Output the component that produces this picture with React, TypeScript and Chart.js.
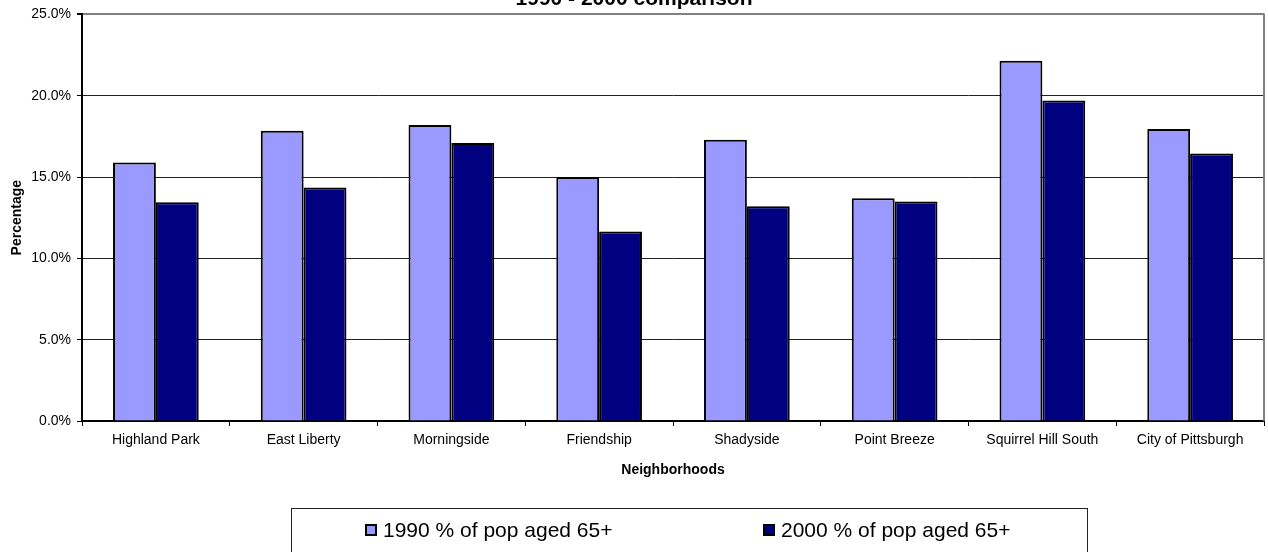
import React, { useEffect, useRef } from 'react';
import { Chart, registerables } from 'chart.js';

Chart.register(...registerables);

const categories = [
  'Highland Park',
  'East Liberty',
  'Morningside',
  'Friendship',
  'Shadyside',
  'Point Breeze',
  'Squirrel Hill South',
  'City of Pittsburgh',
];
const values1990 = [15.9, 17.85, 18.2, 15.0, 17.3, 13.7, 22.15, 17.95];
const values2000 = [13.45, 14.35, 17.1, 11.65, 13.2, 13.5, 19.7, 16.45];
const seriesLabels = ['1990 % of pop aged 65+', '2000 % of pop aged 65+'];
const seriesColors = ['#9999FF', '#000080'];
const yMin = 0;
const yMax = 25;
const yStep = 5;
const chartTitle = '1990 - 2000 comparison';
const xAxisTitle = 'Neighborhoods';
const yAxisTitle = 'Percentage';

const FONT = "'Liberation Sans', Arial, sans-serif";

const decorPlugin = {
  id: 'decor',
  beforeDatasetsDraw(chart: any) {
    const { ctx, chartArea } = chart;
    ctx.save();
    ctx.strokeStyle = '#808080';
    ctx.lineWidth = 2;
    ctx.beginPath();
    ctx.moveTo(chartArea.right, chartArea.top - 1);
    ctx.lineTo(chartArea.right, chartArea.bottom);
    ctx.stroke();
    ctx.restore();
  },
  afterDraw(chart: any) {
    const { ctx, width } = chart;
    ctx.save();
    // title (partially cut at the top as in the reference)
    ctx.fillStyle = '#000';
    ctx.font = `bold 21px ${FONT}`;
    ctx.textAlign = 'center';
    ctx.textBaseline = 'alphabetic';
    ctx.fillText(chartTitle, width / 2, 5);

    // legend box
    const boxLeft = 291;
    const boxRight = 1087;
    const boxTop = 508;
    ctx.strokeStyle = '#222';
    ctx.lineWidth = 1;
    ctx.strokeRect(boxLeft + 0.5, boxTop + 0.5, boxRight - boxLeft, 80);
    const step = (boxRight - boxLeft) / 2;
    chart.data.datasets.forEach((ds: any, i: number) => {
      const x = boxLeft + 74 + i * step;
      const cy = 530;
      ctx.fillStyle = ds.backgroundColor;
      ctx.fillRect(x, cy - 6, 12, 12);
      ctx.strokeStyle = '#000';
      ctx.lineWidth = 2;
      ctx.strokeRect(x + 1, cy - 5, 10, 10);
      ctx.fillStyle = '#000';
      ctx.font = `21px ${FONT}`;
      ctx.textAlign = 'left';
      ctx.textBaseline = 'middle';
      ctx.fillText(ds.label, x + 18, cy + 1);
    });
    ctx.restore();
  },
};

export default function App() {
  const canvasRef = useRef<HTMLCanvasElement | null>(null);

  useEffect(() => {
    const canvas = canvasRef.current;
    if (!canvas) return;
    const chart = new Chart(canvas, {
      type: 'bar',
      data: {
        labels: categories,
        datasets: [
          {
            label: seriesLabels[0],
            data: values1990,
            backgroundColor: seriesColors[0],
            borderColor: '#000',
            borderWidth: 2,
            barPercentage: 1,
            categoryPercentage: 0.58,
          },
          {
            label: seriesLabels[1],
            data: values2000,
            backgroundColor: seriesColors[1],
            borderColor: '#000',
            borderWidth: 2,
            barPercentage: 1,
            categoryPercentage: 0.58,
          },
        ],
      },
      options: {
        responsive: false,
        animation: false,
        layout: { padding: { top: 12, right: 4, bottom: 71, left: 0 } },
        plugins: {
          legend: { display: false },
          title: { display: false },
          tooltip: { enabled: false },
        },
        scales: {
          x: {
            afterFit(scale: any) {
              scale.height = 60;
            },
            grid: {
              offset: true,
              drawOnChartArea: false,
              drawTicks: true,
              tickLength: 5,
              tickColor: '#000',
            },
            border: { color: '#000', width: 2 },
            ticks: {
              color: '#000',
              font: { family: FONT, size: 14 },
              padding: 6,
              maxRotation: 0,
              autoSkip: false,
            },
            title: {
              display: true,
              text: xAxisTitle,
              color: '#000',
              font: { family: FONT, size: 14, weight: 'bold' },
              padding: { top: 0, bottom: 2 },
            },
          },
          y: {
            min: yMin,
            max: yMax,
            afterFit(scale: any) {
              scale.width = 82;
            },
            grid: {
              color: (ctx: any) =>
                ctx.tick && ctx.tick.value === yMax ? '#808080' : '#222',
              lineWidth: (ctx: any) => (ctx.tick && ctx.tick.value === yMax ? 2 : 1),
              drawTicks: true,
              tickLength: 5,
              tickColor: '#000',
            },
            border: { color: '#000', width: 2 },
            ticks: {
              stepSize: yStep,
              color: '#000',
              font: { family: FONT, size: 14 },
              padding: 6,
              callback: (v: any) => Number(v).toFixed(1) + '%',
            },
            title: {
              display: true,
              text: yAxisTitle,
              color: '#000',
              font: { family: FONT, size: 14, weight: 'bold' },
              padding: { top: 9, bottom: 0 },
            },
          },
        },
      },
      plugins: [decorPlugin],
    });
    return () => chart.destroy();
  }, []);

  return (
    <div style={{ position: 'fixed', left: 0, top: 0, width: 1268, height: 552, background: '#fff' }}>
      <canvas ref={canvasRef} width={1268} height={552} style={{ display: 'block' }} />
    </div>
  );
}
